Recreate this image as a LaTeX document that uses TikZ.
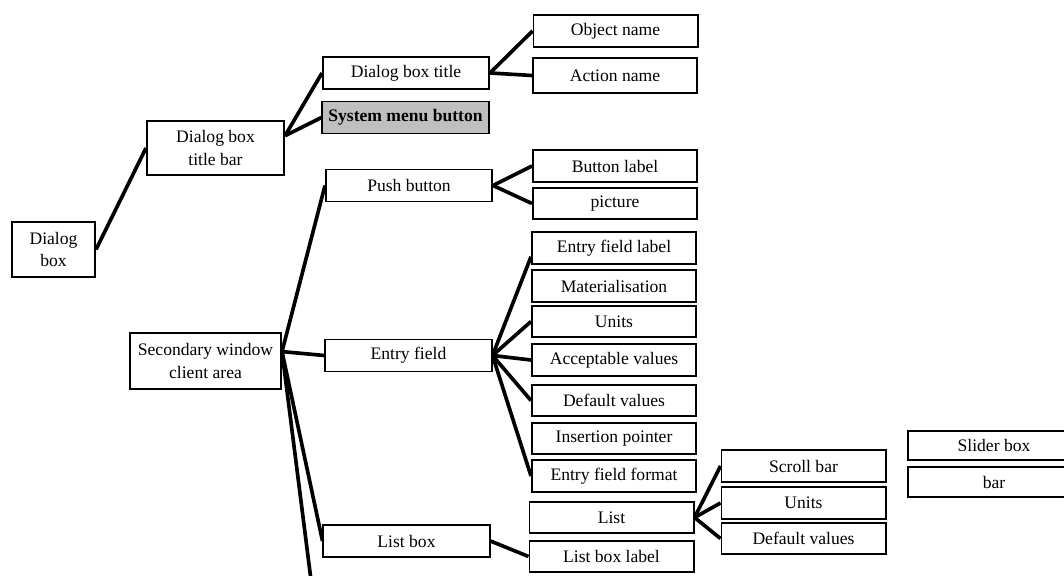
\documentclass[tikz,border=0pt]{standalone}
\usepackage{fontspec}
\setmainfont{Liberation Serif}

\begin{document}
\begin{tikzpicture}[x=0.025cm, y=-0.025cm,
    every node/.style={font=\fontsize{12.5}{16}\selectfont},
    box/.style={draw, line width=1.4pt, inner sep=1pt, align=center},
    leaf/.style={box, minimum width=4.1cm, minimum height=0.78cm},
    mid/.style={box, minimum width=4.15cm, minimum height=0.8cm},
    link/.style={line width=2.6pt}]
  \useasboundingbox (0,0) rectangle (1064,576);
  \clip (0,0) rectangle (1064,576);
  % Dialog box and its title bar
  \node[box, minimum width=2.075cm, minimum height=1.375cm] (dlg) at (53.5,249.5) {Dialog\\box};
  \node[box, minimum width=3.425cm, minimum height=1.35cm] (tbar) at (215.5,148) {Dialog box\\title bar};
  \node[mid] (title) at (406,73) {Dialog box title};
  \node[mid, fill=black!25] (sysmenu) at (405.5,117.5) {\bfseries System menu button};
  \node[leaf] (objname) at (615.5,31) {Object name};
  \node[leaf, minimum height=0.87cm] (actname) at (615,75.5) {Action name};
  % Secondary window client area
  \node[box, minimum width=3.775cm, minimum height=1.4cm] (secwin) at (205.5,361) {Secondary window\\client area};
  \coordinate (down) at (311,580);
  % Push button
  \node[mid] (push) at (409,185.5) {Push button};
  \node[leaf] (btnlabel) at (615,166) {Button label};
  \node[leaf] (picture) at (615,203.5) {picture};
  % Entry field
  \node[mid] (entry) at (408.5,355.5) {Entry field};
  \node[leaf] (eflabel) at (614,248) {Entry field label};
  \node[leaf] (material) at (614,286) {Materialisation};
  \node[leaf] (units) at (614,321.5) {Units};
  \node[leaf] (accept) at (614,360) {Acceptable values};
  \node[leaf] (defval) at (614,400.5) {Default values};
  \node[leaf] (insptr) at (614,438.5) {Insertion pointer};
  \node[leaf] (efformat) at (614,476) {Entry field format};
  % List box
  \node[mid] (listbox) at (406.5,541) {List box};
  \node[leaf] (list) at (611.5,517.5) {List};
  \node[leaf] (lblabel) at (611.5,556.5) {List box label};
  \node[leaf] (scroll) at (803.5,466) {Scroll bar};
  \node[leaf] (units2) at (803.5,503) {Units};
  \node[leaf] (defval2) at (803.5,538.5) {Default values};
  % Slider
  \node[box, minimum width=4.3cm, minimum height=0.72cm] (slider) at (994,445.5) {Slider box};
  \node[box, minimum width=4.3cm, minimum height=0.75cm] (bar) at (994,482) {bar};
  % connectors
  \draw[link] (dlg.east) -- (tbar.west);
  \draw[link] (tbar.10) -- (title.west);
  \draw[link] (tbar.10) -- (sysmenu.west);
  \draw[link] (title.east) -- (objname.west);
  \draw[link] (title.east) -- (actname.west);
  \draw[link] (secwin.7) -- (push.west);
  \draw[link] (secwin.7) -- (entry.west);
  \draw[link] (secwin.7) -- (listbox.west);
  \draw[link] (secwin.7) -- (down);
  \draw[link] (push.east) -- (btnlabel.west);
  \draw[link] (push.east) -- (picture.west);
  \draw[link] (entry.east) -- (eflabel.186);
  \draw[link] (entry.east) -- (units.west);
  \draw[link] (entry.east) -- (accept.west);
  \draw[link] (entry.east) -- (defval.west);
  \draw[link] (entry.east) -- (efformat.west);
  \draw[link] (listbox.east) -- (lblabel.west);
  \draw[link] (list.east) -- (scroll.west);
  \draw[link] (list.east) -- (units2.west);
  \draw[link] (list.east) -- (defval2.west);
\end{tikzpicture}
\end{document}
